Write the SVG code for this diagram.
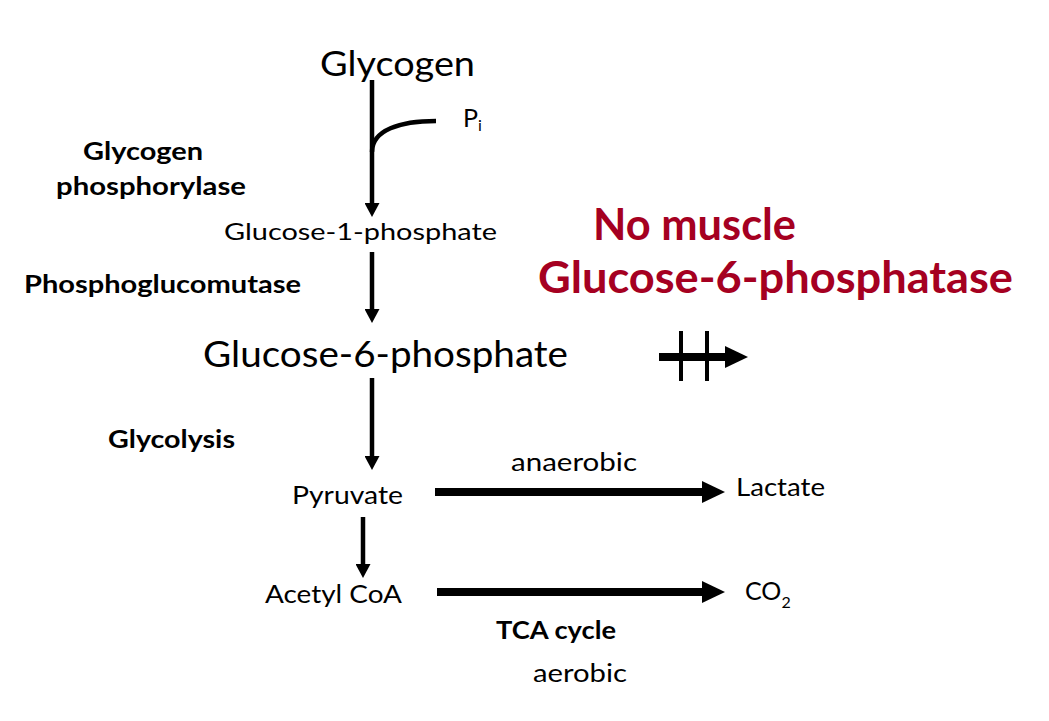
<svg xmlns="http://www.w3.org/2000/svg" width="1049" height="721" viewBox="0 0 1049 721">
<style>
.t{font-family:Lato,"Liberation Sans",sans-serif;fill:#000}
.b{font-family:Lato,"Liberation Sans",sans-serif;font-weight:bold;fill:#000}
.r{font-family:Lato,"Liberation Sans",sans-serif;font-weight:bold;fill:#A50021}
.thin{stroke:#000;stroke-width:4.5;fill:none}
.thick{stroke:#000;stroke-width:8;fill:none}
</style>
<defs>
<marker id="hs" markerUnits="userSpaceOnUse" viewBox="0 0 14 15" refX="2" refY="7.5" markerWidth="14" markerHeight="15" orient="auto"><path d="M0,0 L14,7.5 L0,15 z" fill="#000"/></marker>
<marker id="hl" markerUnits="userSpaceOnUse" viewBox="0 0 23 22" refX="2" refY="11" markerWidth="23" markerHeight="22" orient="auto"><path d="M0,0 L23,11 L0,22 z" fill="#000"/></marker>
</defs>
<rect width="1049" height="721" fill="#fff"/>
<g id="connectors">
<line class="thin" x1="372" y1="80" x2="372" y2="205" marker-end="url(#hs)"/>
<path class="thin" d="M372,152 C372,130 400,121 436,121"/>
<line class="thin" x1="372" y1="252" x2="372" y2="311" marker-end="url(#hs)"/>
<line class="thin" x1="372" y1="378" x2="372" y2="458" marker-end="url(#hs)"/>
<line class="thin" x1="363" y1="517" x2="363" y2="566" marker-end="url(#hs)"/>
<line class="thick" x1="435" y1="492" x2="704" y2="492" marker-end="url(#hl)"/>
<line class="thick" x1="437" y1="592" x2="704" y2="592" marker-end="url(#hl)"/>
<g id="blocked">
<line class="thick" x1="659" y1="357" x2="727" y2="357" marker-end="url(#hl)"/>
<line stroke="#000" stroke-width="4" x1="681" y1="331" x2="681" y2="381"/>
<line stroke="#000" stroke-width="4" x1="707" y1="331" x2="707" y2="381"/>
</g>
</g>
<g id="glycogen"><text class="t" x="320" y="76" font-size="34" textLength="155" lengthAdjust="spacingAndGlyphs">Glycogen</text></g>
<g id="pi"><text class="t" x="463" y="127" font-size="25">P<tspan font-size="16" dy="4">i</tspan></text></g>
<g id="glycogen-phosphorylase">
<text class="b" x="83" y="160" font-size="24" textLength="120" lengthAdjust="spacingAndGlyphs">Glycogen</text>
<text class="b" x="56" y="195" font-size="24" textLength="190" lengthAdjust="spacingAndGlyphs">phosphorylase</text>
</g>
<g id="g1p"><text class="t" x="224" y="240" font-size="23" textLength="273" lengthAdjust="spacingAndGlyphs">Glucose-1-phosphate</text></g>
<g id="phosphoglucomutase"><text class="b" x="24" y="293" font-size="24" textLength="277" lengthAdjust="spacingAndGlyphs">Phosphoglucomutase</text></g>
<g id="no-g6pase">
<text class="r" x="593" y="240" font-size="43" textLength="203" lengthAdjust="spacingAndGlyphs">No muscle</text>
<text class="r" x="538" y="293" font-size="43" textLength="475" lengthAdjust="spacingAndGlyphs">Glucose-6-phosphatase</text>
</g>
<g id="g6p"><text class="t" x="203" y="367" font-size="36" textLength="365" lengthAdjust="spacingAndGlyphs">Glucose-6-phosphate</text></g>
<g id="glycolysis"><text class="b" x="108" y="448" font-size="24" textLength="127" lengthAdjust="spacingAndGlyphs">Glycolysis</text></g>
<g id="anaerobic"><text class="t" x="511" y="471" font-size="25" textLength="126" lengthAdjust="spacingAndGlyphs">anaerobic</text></g>
<g id="pyruvate"><text class="t" x="292" y="504" font-size="25" textLength="111" lengthAdjust="spacingAndGlyphs">Pyruvate</text></g>
<g id="lactate"><text class="t" x="736" y="496" font-size="25" textLength="89" lengthAdjust="spacingAndGlyphs">Lactate</text></g>
<g id="acetyl-coa"><text class="t" x="265" y="603" font-size="25" textLength="137" lengthAdjust="spacingAndGlyphs">Acetyl CoA</text></g>
<g id="co2"><text class="t" x="745" y="600" font-size="25">CO<tspan font-size="16" dy="8">2</tspan></text></g>
<g id="tca"><text class="b" x="496" y="639" font-size="24" textLength="120" lengthAdjust="spacingAndGlyphs">TCA cycle</text></g>
<g id="aerobic"><text class="t" x="533" y="682" font-size="25" textLength="94" lengthAdjust="spacingAndGlyphs">aerobic</text></g>
</svg>
